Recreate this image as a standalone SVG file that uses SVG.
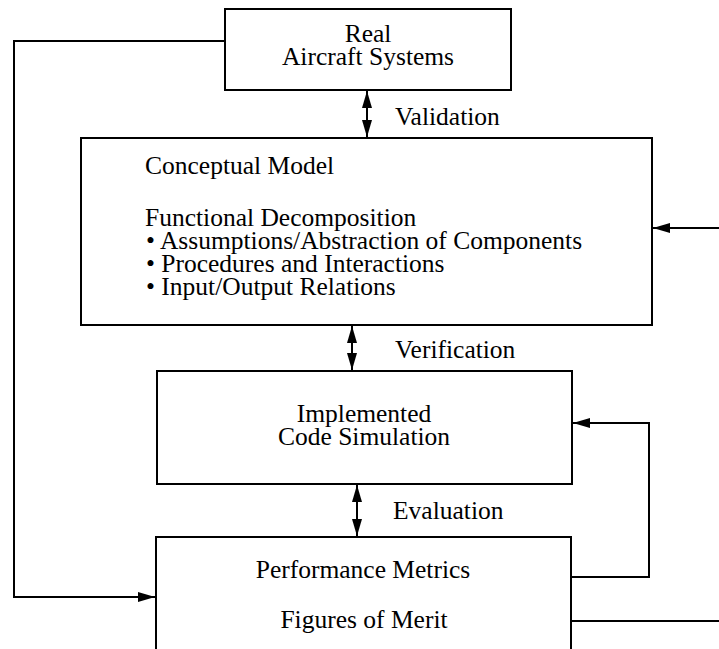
<svg xmlns="http://www.w3.org/2000/svg" width="719" height="649" viewBox="0 0 719 649">
<style>
.box{fill:#fff;stroke:#000;stroke-width:2}
.ln{fill:none;stroke:#000;stroke-width:2}
text{font-family:"Liberation Serif","Times New Roman",serif;font-size:25.5px;fill:#000}
.c{text-anchor:middle}
</style>
<defs>
<marker id="ah" markerUnits="userSpaceOnUse" markerWidth="18" markerHeight="11" refX="17" refY="5" orient="auto-start-reverse">
<path d="M0,0 L17,5 L0,10 z" fill="#000"/>
</marker>
</defs>
<rect width="719" height="649" fill="#fff"/>
<g id="connectors">
<path class="ln" d="M225,41 H14 V597 H155" marker-end="url(#ah)"/>
<path class="ln" d="M367,91 V137" marker-start="url(#ah)" marker-end="url(#ah)"/>
<path class="ln" d="M352,326 V370" marker-start="url(#ah)" marker-end="url(#ah)"/>
<path class="ln" d="M357,485 V536" marker-start="url(#ah)" marker-end="url(#ah)"/>
<path class="ln" d="M571,577 H649 V423 H573" marker-end="url(#ah)"/>
<path class="ln" d="M571,621 H719"/>
<path class="ln" d="M719,228 H653" marker-end="url(#ah)"/>
<text x="395" y="125">Validation</text>
<text x="395" y="358">Verification</text>
<text x="393" y="519">Evaluation</text>
</g>
<g id="real">
<rect class="box" x="225" y="9" width="286" height="81"/>
<text class="c" x="368" y="42">Real</text>
<text class="c" x="368" y="65">Aircraft Systems</text>
</g>
<g id="conceptual">
<rect class="box" x="81" y="138" width="571" height="187"/>
<text x="145" y="174">Conceptual Model</text>
<text x="145" y="226">Functional Decomposition</text>
<text x="146" y="249">• Assumptions/Abstraction of Components</text>
<text x="146" y="272">• Procedures and Interactions</text>
<text x="146" y="295">• Input/Output Relations</text>
</g>
<g id="implemented">
<rect class="box" x="157" y="371" width="415" height="113"/>
<text class="c" x="364" y="422">Implemented</text>
<text class="c" x="364" y="445">Code Simulation</text>
</g>
<g id="performance">
<path class="box" d="M156,660 V537 H571 V660"/>
<text class="c" x="363" y="578">Performance Metrics</text>
<text class="c" x="364" y="628">Figures of Merit</text>
</g>
</svg>
